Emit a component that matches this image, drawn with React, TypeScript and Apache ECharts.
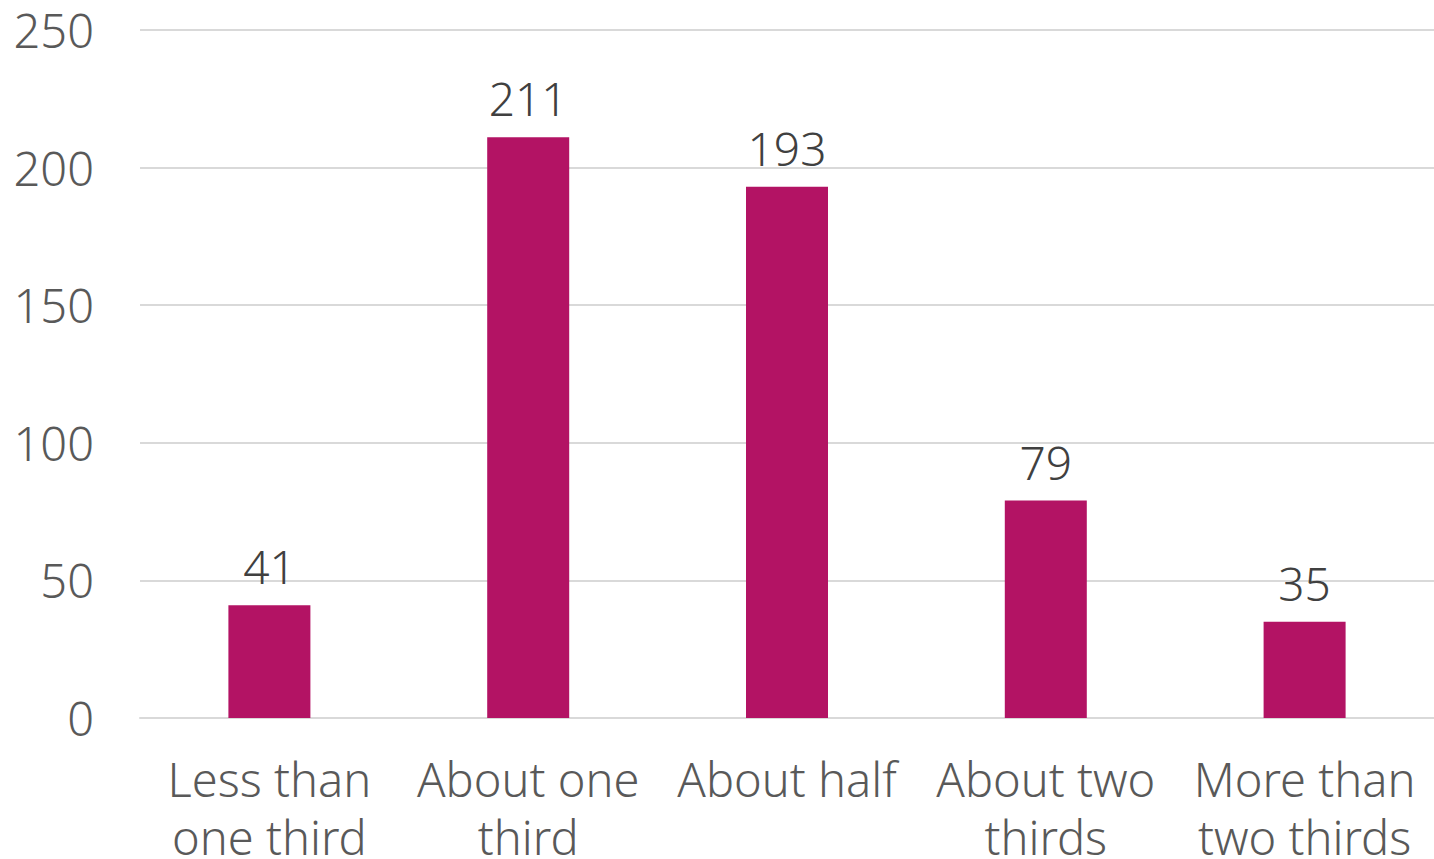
import React, { useEffect, useRef } from "react";
import * as echarts from "echarts";

const categories = ["Less than\none third", "About one\nthird", "About half", "About two\nthirds", "More than\ntwo thirds"];
const values = [41, 211, 193, 79, 35];
const yMax = 250;
const yInterval = 50;

export default function App() {
  const ref = useRef<HTMLDivElement>(null);
  useEffect(() => {
    const chart = echarts.init(ref.current!, null, { renderer: "svg" });
    const font = "'Noto Sans', sans-serif";
    chart.setOption({
      animation: false,
      grid: { left: 140, right: 0, top: 30, height: 695, containLabel: false },
      xAxis: {
        type: "category",
        data: categories,
        axisLine: { show: true, lineStyle: { color: "#d9d9d9", width: 2 } },
        axisTick: { show: false },
        axisLabel: {
          color: "#595959",
          fontSize: 47,
          fontFamily: font,
          fontWeight: 300,
          lineHeight: 58,
          margin: 32,
          interval: 0,
        },
      },
      yAxis: {
        type: "value",
        min: 0,
        max: yMax,
        interval: yInterval,
        axisLine: { show: false },
        axisTick: { show: false },
        splitLine: { lineStyle: { color: "#d9d9d9", width: 2 } },
        axisLabel: {
          color: "#595959",
          fontSize: 47,
          fontFamily: font,
          fontWeight: 300,
          margin: 46,
        },
      },
      series: [
        {
          type: "bar",
          data: values,
          barWidth: 82,
          itemStyle: { color: "#B31364" },
          label: {
            show: true,
            position: "top",
            distance: 16,
            color: "#404040",
            fontSize: 46,
            fontFamily: font,
            fontWeight: 300,
          },
        },
      ],
    });
    return () => chart.dispose();
  }, []);
  return (
    <div
      ref={ref}
      style={{ position: "fixed", left: 0, top: 0, width: 1434, height: 866, background: "#fff" }}
    />
  );
}
